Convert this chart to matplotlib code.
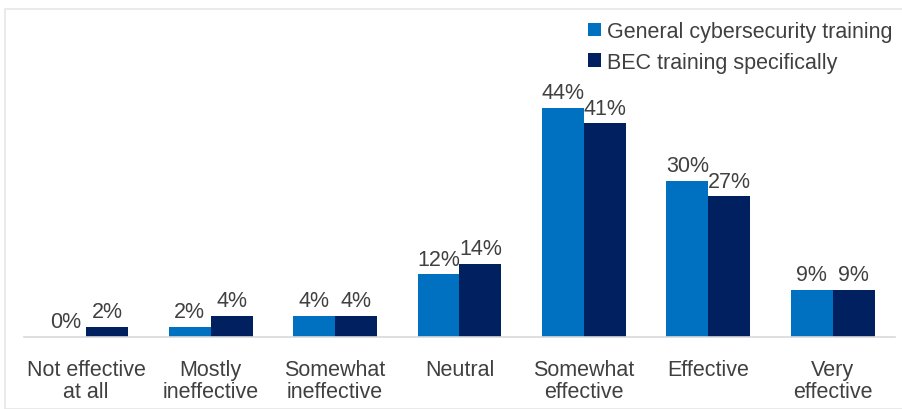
import matplotlib.pyplot as plt
from matplotlib.patches import Rectangle
import numpy as np

plt.rcParams['font.family'] = ['Liberation Sans', 'DejaVu Sans']

categories = ["Not effective\nat all", "Mostly\nineffective", "Somewhat\nineffective",
              "Neutral", "Somewhat\neffective", "Effective", "Very\neffective"]
general = [0, 2, 4, 12, 44, 30, 9]
bec = [2, 4, 4, 14, 41, 27, 9]
series_names = ["General cybersecurity training", "BEC training specifically"]

light = "#0070C0"
dark = "#002060"
grey = "#404040"
fs = 15.5

fig = plt.figure(figsize=(9.03, 4.10), dpi=100)
ax = fig.add_axes([24/903, 72/410, 871/903, 323/410])

# light border round the whole chart
fig.patches.append(Rectangle((5/903, 0), 1, 400/410, transform=fig.transFigure,
                             fill=False, edgecolor="#E6E6E6", linewidth=1.2))

x = np.arange(len(categories))
w = 0.337
b1 = ax.bar(x - w/2, general, w, color=light, label=series_names[0])
b2 = ax.bar(x + w/2, bec, w, color=dark, label=series_names[1])

for bars, vals in ((b1, general), (b2, bec)):
    for r, v in zip(bars, vals):
        ax.text(r.get_x() + r.get_width()/2, v + 0.9, f"{v}%", ha="center", va="bottom",
                fontsize=fs, color=grey)

ax.set_xlim(-0.5, 6.5)
ax.set_ylim(0, 62)
ax.set_xticks(x)
ax.set_xticklabels(categories, fontsize=fs, color=grey, linespacing=1.05)
ax.tick_params(axis="x", length=0, pad=16)
ax.set_yticks([])
for s in ["top", "right", "left"]:
    ax.spines[s].set_visible(False)
ax.spines["bottom"].set_color("#D9D9D9")
ax.spines["bottom"].set_linewidth(1.2)

leg = ax.legend(loc="upper right", bbox_to_anchor=(1.012, 1.018), frameon=False, fontsize=fs,
                handlelength=0.6, handleheight=0.6, handletextpad=0.3, labelspacing=0.45,
                borderaxespad=0.2)
for t in leg.get_texts():
    t.set_color(grey)

fig.savefig("out.png", dpi=100)
